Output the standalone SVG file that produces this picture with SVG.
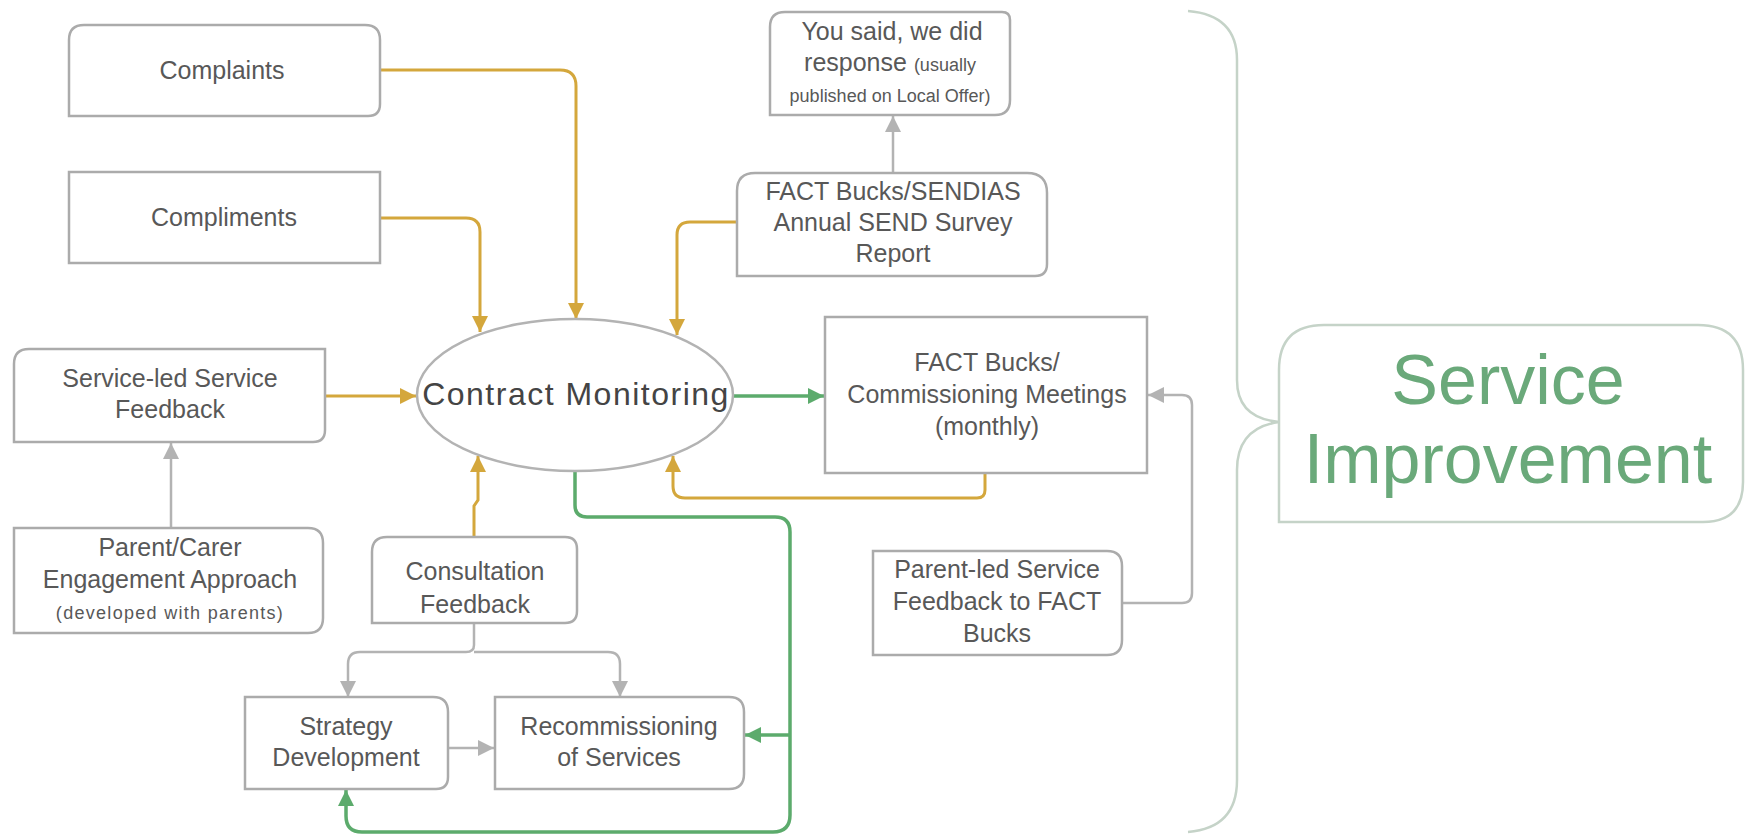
<svg xmlns="http://www.w3.org/2000/svg" width="1752" height="836" viewBox="0 0 1752 836">
<style>
.box{fill:#fff;stroke:#ababab;stroke-width:2.5}
.t{font-family:"Liberation Sans",Arial,sans-serif;fill:#585858;text-anchor:middle;font-size:25px}
.s{font-size:18px}
.y{fill:none;stroke:#d4a73c;stroke-width:3}
.g{fill:none;stroke:#5cab6c;stroke-width:3.5}
.n{fill:none;stroke:#b3b3b3;stroke-width:2.5}
</style>
<defs>
<marker id="ay" viewBox="0 0 10 10" refX="10" refY="5" markerWidth="16" markerHeight="16" markerUnits="userSpaceOnUse" orient="auto"><path d="M0 0L10 5L0 10z" fill="#d4a73c"/></marker>
<marker id="ag" viewBox="0 0 10 10" refX="10" refY="5" markerWidth="16" markerHeight="16" markerUnits="userSpaceOnUse" orient="auto"><path d="M0 0L10 5L0 10z" fill="#5cab6c"/></marker>
<marker id="an" viewBox="0 0 10 10" refX="10" refY="5" markerWidth="16" markerHeight="16" markerUnits="userSpaceOnUse" orient="auto"><path d="M0 0L10 5L0 10z" fill="#b3b3b3"/></marker>
</defs>
<rect width="1752" height="836" fill="#fff"/>

<g id="connectors">
<path class="y" d="M380 70H560Q576 70 576 86V319" marker-end="url(#ay)"/>
<path class="y" d="M380 218H466Q480 218 480 232V332" marker-end="url(#ay)"/>
<path class="y" d="M737 222H690Q677 222 677 235V335" marker-end="url(#ay)"/>
<path class="y" d="M325 396H416" marker-end="url(#ay)"/>
<path class="y" d="M474 537V506L478 500V456" marker-end="url(#ay)"/>
<path class="y" d="M985 473V490Q985 498 977 498H685Q673 498 673 486V456" marker-end="url(#ay)"/>
<path class="g" d="M733 396H824" marker-end="url(#ag)"/>
<path class="g" d="M575 471V505Q575 517 587 517H775Q790 517 790 532V815Q790 832 773 832H362Q346 832 346 816V790" marker-end="url(#ag)"/>
<path class="g" d="M790 735H745" marker-end="url(#ag)"/>
<path class="n" d="M893 173V116" marker-end="url(#an)"/>
<path class="n" d="M171 528V443" marker-end="url(#an)"/>
<path class="n" d="M1122 603H1182Q1192 603 1192 593V405Q1192 395 1182 395H1148" marker-end="url(#an)"/>
<path class="n" d="M474 623V645Q474 652 466 652H360Q348 652 348 664V697" marker-end="url(#an)"/>
<path class="n" d="M474 652H608Q620 652 620 664V697" marker-end="url(#an)"/>
<path class="n" d="M448 748H494" marker-end="url(#an)"/>
<path d="M1188 11Q1237 15 1237 60V380Q1237 418 1279 422Q1237 428 1237 470V780Q1237 828 1188 832" fill="none" stroke="#c5d3c8" stroke-width="2.5"/>
</g>

<g id="complaints">
<path class="box" d="M69 116V40Q69 25 84 25H365Q380 25 380 40V104Q380 116 368 116Z"/>
<text class="t" x="222" y="79">Complaints</text>
</g>
<g id="compliments">
<rect class="box" x="69" y="172" width="311" height="91"/>
<text class="t" x="224" y="226">Compliments</text>
</g>
<g id="you-said">
<path class="box" d="M770 115V27Q770 12 785 12H1002Q1010 12 1010 20V100Q1010 115 995 115Z"/>
<text class="t" x="892" y="40">You said, we did</text>
<text class="t" x="890" y="71">response <tspan class="s">(usually</tspan></text>
<text class="t s" x="890" y="102">published on Local Offer)</text>
</g>
<g id="fact-sendias">
<path class="box" d="M737 276V191Q737 173 755 173H1027Q1047 173 1047 193V264Q1047 276 1035 276Z"/>
<text class="t" x="893" y="200">FACT Bucks/SENDIAS</text>
<text class="t" x="893" y="231">Annual SEND Survey</text>
<text class="t" x="893" y="262">Report</text>
</g>
<g id="service-led">
<path class="box" d="M14 442V364Q14 349 29 349H325V430Q325 442 313 442Z"/>
<text class="t" x="170" y="387">Service-led Service</text>
<text class="t" x="170" y="418">Feedback</text>
</g>
<g id="contract-monitoring">
<ellipse cx="575" cy="395" rx="158" ry="76" fill="#fff" stroke="#b3b3b3" stroke-width="2.5"/>
<text class="t" x="576" y="405" style="font-size:32px;fill:#444;letter-spacing:1.5px">Contract Monitoring</text>
</g>
<g id="commissioning">
<rect class="box" x="825" y="317" width="322" height="156"/>
<text class="t" x="987" y="371">FACT Bucks/</text>
<text class="t" x="987" y="403">Commissioning Meetings</text>
<text class="t" x="987" y="435">(monthly)</text>
</g>
<g id="parent-carer">
<path class="box" d="M14 633V528H308Q323 528 323 543V618Q323 633 308 633Z"/>
<text class="t" x="170" y="556">Parent/Carer</text>
<text class="t" x="170" y="588">Engagement Approach</text>
<text class="t s" x="170" y="619" style="letter-spacing:1.3px">(developed with parents)</text>
</g>
<g id="consultation">
<path class="box" d="M372 623V552Q372 537 387 537H565Q577 537 577 549V611Q577 623 565 623Z"/>
<text class="t" x="475" y="580">Consultation</text>
<text class="t" x="475" y="613">Feedback</text>
</g>
<g id="parent-led">
<path class="box" d="M873 655V551H1107Q1122 551 1122 566V640Q1122 655 1107 655Z"/>
<text class="t" x="997" y="578">Parent-led Service</text>
<text class="t" x="997" y="610">Feedback to FACT</text>
<text class="t" x="997" y="642">Bucks</text>
</g>
<g id="strategy">
<path class="box" d="M245 789V697H433Q448 697 448 712V777Q448 789 436 789Z"/>
<text class="t" x="346" y="735">Strategy</text>
<text class="t" x="346" y="766">Development</text>
</g>
<g id="recommissioning">
<path class="box" d="M495 789V697H729Q744 697 744 712V774Q744 789 729 789Z"/>
<text class="t" x="619" y="735">Recommissioning</text>
<text class="t" x="619" y="766">of Services</text>
</g>
<g id="service-improvement">
<path d="M1279 522V370Q1279 325 1324 325H1698Q1743 325 1743 370V482Q1743 522 1703 522Z" fill="#fff" stroke="#c5d3c8" stroke-width="2.5"/>
<text class="t" x="1508" y="404" style="font-size:70px;fill:#6aa97a">Service</text>
<text class="t" x="1508" y="483" style="font-size:70px;fill:#6aa97a">Improvement</text>
</g>
</svg>
